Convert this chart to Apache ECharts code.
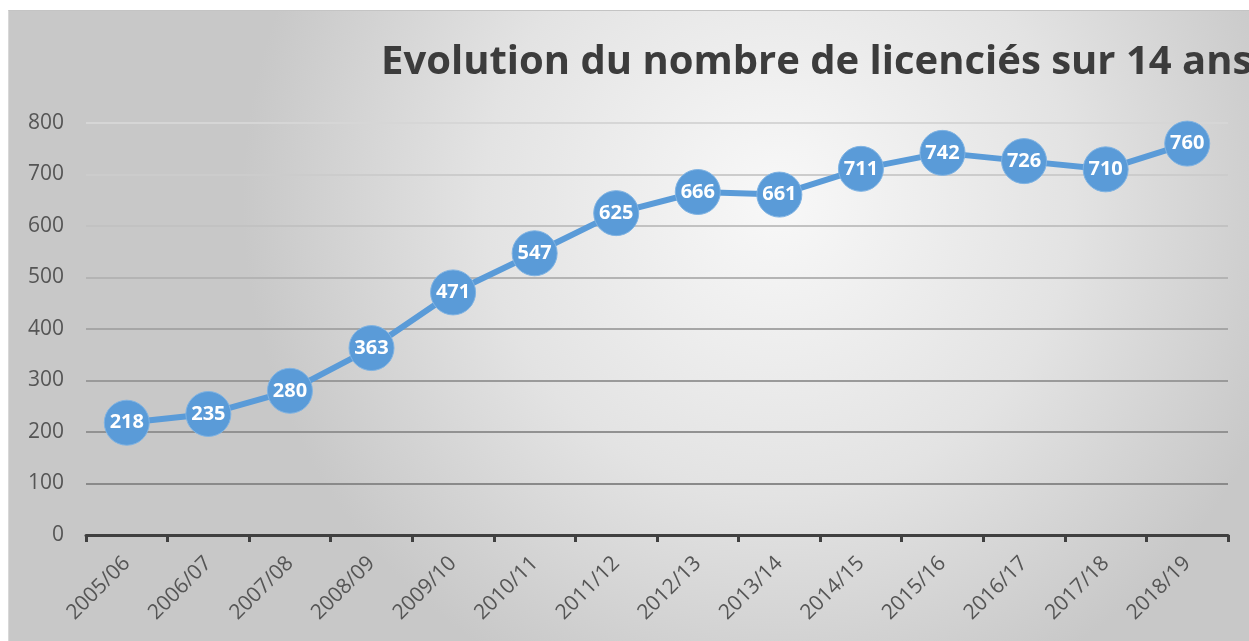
<!DOCTYPE html>
<html>
<head>
<meta charset="utf-8">
<script src="https://cdn.jsdelivr.net/npm/echarts@6/dist/echarts.min.js"></script>
<style>
  html, body { margin: 0; padding: 0; background: #ffffff; }
  #chart {
    position: absolute; left: 8px; top: 10px;
    width: 1241px; height: 631px;
    border-top: 1px solid #c4c4c4;
    border-left: 1px solid #d8d8d8;
    box-sizing: border-box;
  }
</style>
</head>
<body>
<div id="chart"></div>
<script>
var titleText = "Evolution du nombre de licenciés sur 14 ans";
var seasons = ["2005/06", "2006/07", "2007/08", "2008/09", "2009/10", "2010/11", "2011/12",
  "2012/13", "2013/14", "2014/15", "2015/16", "2016/17", "2017/18", "2018/19"];
var licencies = [218, 235, 280, 363, 471, 547, 625, 666, 661, 711, 742, 726, 710, 760];
var yTicks = [0, 100, 200, 300, 400, 500, 600, 700, 800];

var chart = echarts.init(document.getElementById("chart"));

var option = {
  backgroundColor: {
    type: "radial", x: 0.62, y: 0.3, r: 0.85,
    colorStops: [
      { offset: 0, color: "#f8f8f8" },
      { offset: 0.55, color: "#e3e3e3" },
      { offset: 1, color: "#c8c8c8" }
    ]
  },
  title: {
    text: titleText,
    left: 367, top: 27,
    textStyle: { fontFamily: "Open Sans", fontWeight: "bold", fontSize: 40, color: "#3c3c3c" }
  },
  grid: { left: 77, right: 21, top: 112, bottom: 106, containLabel: false },
  xAxis: {
    type: "category",
    data: seasons,
    boundaryGap: true,
    axisLine: { lineStyle: { color: "#404040", width: 3 } },
    axisTick: { show: true, length: 7, lineStyle: { color: "#404040", width: 3 } },
    axisLabel: {
      rotate: 45, margin: 25,
      fontFamily: "Open Sans", fontSize: 21, color: "#555555"
    }
  },
  yAxis: {
    type: "value",
    min: yTicks[0], max: yTicks[yTicks.length - 1], interval: 100,
    axisLine: { show: false },
    axisTick: { show: false },
    axisLabel: { margin: 22, fontFamily: "Open Sans", fontSize: 21, color: "#555555" },
    splitLine: {
      lineStyle: {
        width: 2,
        color: ["#404040", "#8a8a8a", "#929292", "#9a9a9a", "#a6a6a6", "#b4b4b4", "#c2c2c2", "#cccccc", "#d6d6d6"]
      }
    }
  },
  series: [{
    type: "line",
    data: licencies,
    symbol: "circle",
    symbolSize: 45,
    itemStyle: { color: "#5a9bd8", borderColor: "#7fb3e3", borderWidth: 1 },
    lineStyle: { color: "#5a9bd8", width: 6 },
    label: {
      show: true, position: "inside",
      fontFamily: "Open Sans", fontWeight: "bold", fontSize: 20, color: "#ffffff"
    }
  }]
};

chart.setOption(option);
window.onresize = function () { chart.resize(); };
</script>
</body>
</html>
